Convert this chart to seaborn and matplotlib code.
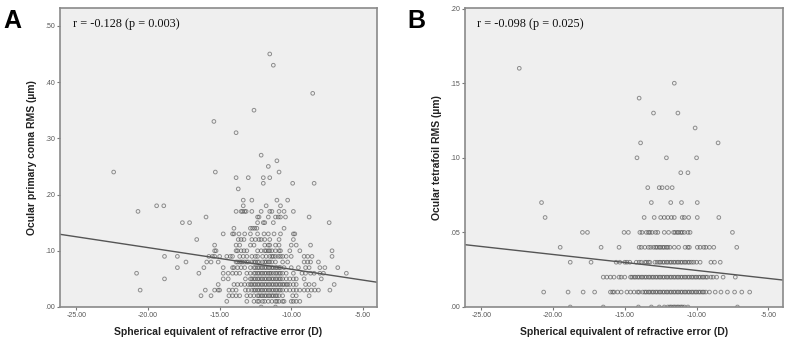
import numpy as np
import pandas as pd
import seaborn as sns
import matplotlib.pyplot as plt
from matplotlib.ticker import FuncFormatter

# ---- data (y level, x values in D) ----
coma_rows = [
    (0.45, [-11.5]),
    (0.43, [-11.25]),
    (0.38, [-8.5]),
    (0.35, [-12.6]),
    (0.33, [-15.4]),
    (0.31, [-13.85]),
    (0.27, [-12.1]),
    (0.26, [-11.0]),
    (0.25, [-11.6]),
    (0.24, [-22.4, -15.3, -10.85]),
    (0.23, [-13.85, -13.0, -11.95, -11.5]),
    (0.22, [-11.95, -9.9, -8.4]),
    (0.21, [-13.7]),
    (0.19, [-13.35, -12.75, -11.0, -10.25]),
    (0.18, [-19.4, -18.9, -13.35, -11.75, -10.75]),
    (0.17, [-20.7, -13.85, -13.5, -13.4, -13.25, -13.15, -12.75, -12.1, -11.5, -11.35, -10.85, -10.5, -9.85]),
    (0.16, [-15.95, -12.35, -12.25, -11.6, -11.1, -10.9, -10.75, -10.4, -8.75]),
    (0.15, [-17.6, -17.1, -12.35, -11.95, -11.85, -11.25, -7.35]),
    (0.14, [-14.0, -12.85, -12.7, -12.55, -12.4, -10.5]),
    (0.13, [-14.75, -14.1, -14.0, -13.65, -13.25, -12.85, -12.35, -11.9, -11.6, -11.2, -10.75, -9.85, -9.75]),
    (0.12, [-16.6, -13.7, -13.5, -13.3, -12.75, -12.5, -12.25, -12.1, -11.85, -11.5, -10.85, -9.85]),
    (0.11, [-15.35, -13.85, -13.6, -12.85, -12.6, -11.85, -11.6, -11.5, -11.1, -10.85, -10.0, -9.65, -8.65]),
    (0.10, [-15.35, -15.25, -13.85, -13.75, -13.5, -13.3, -13.1, -12.35, -12.1, -11.85, -11.75, -11.6,
            -11.5, -11.35, -11.1, -10.85, -10.75, -10.1, -9.4, -7.15]),
    (0.09, [-18.85, -17.95, -15.75, -15.5, -15.35, -15.0, -14.5, -14.25, -14.1, -13.6, -13.35, -13.1,
            -12.75, -12.5, -12.35, -12.0, -11.75, -11.5, -11.35, -11.25, -11.1, -10.9, -10.75, -10.6,
            -10.35, -10.0, -9.1, -8.85, -8.55, -7.15]),
    (0.08, [-17.35, -15.9, -15.6, -15.1, -13.85, -13.75, -13.6, -13.5, -13.4, -13.25, -13.1, -13.0,
            -12.75, -12.6, -12.5, -12.35, -12.25, -12.0, -11.85, -11.75, -11.6, -11.5, -11.35, -11.1,
            -10.6, -10.25, -9.1, -8.85, -8.65, -8.1]),
    (0.07, [-17.95, -16.1, -14.75, -14.1, -14.0, -13.75, -13.5, -13.25, -12.85, -12.6, -12.5, -12.35,
            -12.25, -12.1, -12.0, -11.85, -11.75, -11.6, -11.5, -11.35, -11.25, -11.1, -11.0, -10.85,
            -10.75, -10.5, -10.0, -9.5, -9.0, -8.75, -8.0, -7.65, -6.75]),
    (0.06, [-20.8, -16.45, -14.75, -14.4, -14.1, -13.85, -13.6, -13.1, -12.85, -12.6, -12.5, -12.35,
            -12.25, -12.1, -12.0, -11.85, -11.75, -11.6, -11.5, -11.4, -11.25, -11.1, -11.0, -10.85,
            -10.75, -10.6, -10.35, -9.85, -9.25, -9.0, -8.65, -8.4, -8.0, -7.75, -6.15]),
    (0.05, [-18.85, -14.75, -14.4, -13.2, -12.85, -12.75, -12.6, -12.5, -12.35, -12.25, -12.1, -12.0,
            -11.85, -11.75, -11.6, -11.5, -11.35, -11.25, -11.1, -11.0, -10.85, -10.75, -10.6, -10.35,
            -10.1, -9.85, -9.65, -9.1, -7.9]),
    (0.04, [-15.1, -14.0, -13.75, -13.5, -13.25, -13.0, -12.85, -12.75, -12.6, -12.5, -12.35, -12.25,
            -12.1, -12.0, -11.85, -11.75, -11.6, -11.5, -11.35, -11.25, -11.1, -11.0, -10.85, -10.75,
            -10.6, -10.5, -10.35, -10.25, -10.1, -9.85, -9.65, -9.0, -8.75, -8.4, -7.0]),
    (0.03, [-20.55, -16.0, -15.35, -15.1, -15.0, -14.35, -14.1, -13.85, -13.2, -13.0, -12.75, -12.6,
            -12.5, -12.35, -12.25, -12.1, -12.0, -11.85, -11.75, -11.6, -11.5, -11.35, -11.25, -11.1,
            -11.0, -10.85, -10.75, -10.6, -10.35, -10.1, -9.85, -9.65, -9.4, -9.1, -8.85, -8.6, -8.35,
            -8.1, -7.3]),
    (0.02, [-16.3, -15.6, -14.35, -14.1, -13.85, -13.6, -13.1, -12.85, -12.6, -12.35, -12.25, -12.1,
            -12.0, -11.85, -11.75, -11.6, -11.5, -11.35, -11.25, -11.1, -11.0, -10.85, -10.6, -9.9,
            -9.65, -8.75]),
    (0.01, [-14.5, -13.1, -12.6, -12.35, -12.25, -12.0, -11.85, -11.6, -11.35, -11.1, -11.0, -10.85,
            -10.6, -10.5, -10.0, -9.85, -9.65, -9.4]),
    (0.00, [-12.1, -11.1]),
]

tetra_rows = [
    (0.16, [-22.35]),
    (0.15, [-11.55]),
    (0.14, [-14.0]),
    (0.13, [-13.0, -11.3]),
    (0.12, [-10.1]),
    (0.11, [-13.9, -8.5]),
    (0.10, [-14.15, -12.1, -10.0]),
    (0.09, [-11.1, -10.6]),
    (0.08, [-13.4, -12.6, -12.4, -12.05, -11.7]),
    (0.07, [-20.8, -13.15, -11.8, -11.05, -9.95]),
    (0.06, [-20.55, -13.65, -12.95, -12.5, -12.25, -12.0, -11.75, -11.55, -11.0, -10.85, -10.55,
            -9.95, -8.45]),
    (0.05, [-17.95, -17.6, -15.05, -14.75, -13.95, -13.8, -13.5, -13.35, -13.25, -13.1, -12.85, -12.7,
            -12.25, -11.95, -11.6, -11.5, -11.35, -11.25, -11.1, -11.0, -10.85, -10.6, -10.45, -7.5]),
    (0.04, [-19.5, -16.65, -15.4, -14.0, -13.85, -13.6, -13.35, -13.2, -13.0, -12.85, -12.75, -12.6,
            -12.5, -12.35, -12.25, -12.1, -12.0, -11.85, -11.55, -11.25, -10.8, -10.6, -10.5, -9.95,
            -9.75, -9.5, -9.35, -9.1, -8.8, -7.2]),
    (0.03, [-18.8, -17.35, -15.6, -15.35, -15.0, -14.85, -14.65, -14.2, -14.0, -13.85, -13.6, -13.5,
            -13.35, -13.25, -12.9, -12.75, -12.6, -12.5, -12.35, -12.25, -12.1, -12.0, -11.85, -11.75,
            -11.6, -11.5, -11.35, -11.25, -11.1, -11.0, -10.85, -10.75, -10.6, -10.5, -10.35, -10.2,
            -10.0, -9.75, -9.0, -8.75, -8.35]),
    (0.02, [-16.5, -16.25, -16.0, -15.75, -15.4, -15.25, -15.0, -14.6, -14.5, -14.35, -14.25, -14.1,
            -14.0, -13.85, -13.75, -13.6, -13.5, -13.35, -13.25, -13.1, -13.0, -12.85, -12.75, -12.6,
            -12.5, -12.35, -12.25, -12.1, -12.0, -11.85, -11.75, -11.6, -11.5, -11.35, -11.25, -11.1,
            -11.0, -10.85, -10.75, -10.6, -10.5, -10.35, -10.25, -10.1, -10.0, -9.85, -9.75, -9.6,
            -9.5, -9.35, -9.25, -9.0, -8.85, -8.6, -8.15, -7.3]),
    (0.01, [-20.65, -18.95, -17.9, -17.1, -16.0, -15.85, -15.75, -15.5, -15.25, -14.85, -14.6, -14.35,
            -14.1, -14.0, -13.75, -13.6, -13.5, -13.35, -13.25, -13.1, -13.0, -12.85, -12.75, -12.6,
            -12.5, -12.35, -12.25, -12.1, -12.0, -11.85, -11.75, -11.6, -11.5, -11.35, -11.25, -11.1,
            -11.0, -10.85, -10.75, -10.6, -10.5, -10.35, -10.25, -10.1, -10.0, -9.85, -9.75, -9.6,
            -9.5, -9.35, -9.1, -8.7, -8.3, -7.85, -7.35, -6.85, -6.3]),
    (0.00, [-18.8, -16.5, -14.05, -13.15, -12.6, -12.25, -12.0, -11.85, -11.75, -11.6, -11.5, -11.35,
            -11.25, -11.1, -11.0, -10.85, -10.6, -7.15]),
]

# fit lines (slope, intercept)
coma_fit = (-0.00385, 0.0286)
tetra_fit = (-0.00107, 0.0138)

coma_text = "r = -0.128 (p = 0.003)"
tetra_text = "r = -0.098 (p = 0.025)"
x_title = "Spherical equivalent of refractive error (D)"
coma_ytitle = "Ocular primary coma RMS (\u00b5m)"
tetra_ytitle = "Ocular tetrafoil RMS (\u00b5m)"
x_ticks = [-25, -20, -15, -10, -5]
coma_yticks = [0.0, 0.1, 0.2, 0.3, 0.4, 0.5]
tetra_yticks = [0.0, 0.05, 0.10, 0.15, 0.20]
x_lim = (-26.15, -4.0)


def to_frame(rows):
	xs, ys = [], []
	for yv, xlist in rows:
		for xv in xlist:
			xs.append(xv)
			ys.append(yv)
	return pd.DataFrame({"se": xs, "rms": ys})


sns.set_style("white")
plt.rcParams['font.family'] = ['Liberation Sans', 'DejaVu Sans']

fig = plt.figure(figsize=(7.89, 3.44), dpi=100)
ax_a = fig.add_axes([0.076, 0.1076, 0.402, 0.8695])
ax_b = fig.add_axes([0.589, 0.1076, 0.403, 0.8695])

panels = [
	(ax_a, to_frame(coma_rows), coma_fit, coma_text, coma_ytitle, coma_yticks, (0, 0.532), "A", 0.004),
	(ax_b, to_frame(tetra_rows), tetra_fit, tetra_text, tetra_ytitle, tetra_yticks, (0, 0.2005), "B", 0.516),
]

for ax, df, fit, txt, ytitle, yticks, ylim, letter, lx in panels:
	ax.set_facecolor("#efefef")
	sns.scatterplot(data=df, x="se", y="rms", ax=ax, s=7, marker="o",
		facecolor="none", edgecolor="#4a4a4a", linewidth=0.7, alpha=0.6)
	lx_vals = np.array(x_lim)
	sns.lineplot(x=lx_vals, y=fit[0] * lx_vals + fit[1], ax=ax, color="#555555", linewidth=1.0)
	ax.set_xlim(*x_lim)
	ax.set_ylim(*ylim)
	ax.set_xticks(x_ticks)
	ax.set_yticks(yticks)
	ax.xaxis.set_major_formatter(FuncFormatter(lambda v, p: "%.2f" % v))
	ax.yaxis.set_major_formatter(FuncFormatter(lambda v, p: ("%.2f" % v).lstrip("0")))
	ax.tick_params(axis="both", direction="out", length=2.5, width=0.8, color="#777777",
		labelsize=5, labelcolor="#555555", pad=1, bottom=True, left=True)
	for sp in ax.spines.values():
		sp.set_color("#8a8a8a")
		sp.set_linewidth(1.2)
	ax.set_xlabel(x_title, fontsize=7.5, fontweight="bold", color="#222222", labelpad=6)
	ax.set_ylabel(ytitle, fontsize=7.5, fontweight="bold", color="#222222", labelpad=6)
	ax.text(0.04, 0.965, txt, transform=ax.transAxes, ha="left", va="top",
		fontsize=8.8, family=["Liberation Serif", "DejaVu Serif"], color="#111111")
	fig.text(lx, 0.975, letter, ha="left", va="top", fontsize=18, fontweight="bold", color="black")

plt.savefig("out.png", dpi=100)
plt.close()
